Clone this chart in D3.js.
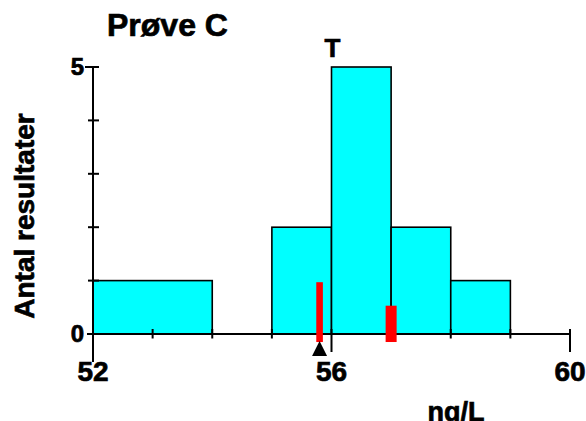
<!DOCTYPE html>
<html><head><meta charset="utf-8">
<script src="https://cdn.jsdelivr.net/npm/d3@7"></script>
<style>body{margin:0;background:#fff}svg{display:block}text{font-family:"Liberation Sans",Arial,sans-serif;font-weight:bold;fill:#000;stroke:#000;stroke-width:0.7px}</style>
</head><body>
<script>
const binStart = [52, 55, 56, 57, 58];
const binEnd   = [54, 56, 57, 58, 59];
const counts   = [1, 2, 5, 2, 1];
const xTickLabels = [52, 56, 60];
const yTickLabels = [0, 5];
const markerValues = [55.8, 57.0];
const markerTops   = [0.97, 0.53];
const targetValue = 56;
const arrowValue = 55.8;

const W = 586, H = 421;
const svg = d3.select("body").append("svg").attr("width", W).attr("height", H);
const x = d3.scaleLinear().domain([52, 60]).range([93, 570]);
const y = d3.scaleLinear().domain([0, 5]).range([334, 67]);

// bars
svg.selectAll("rect.bar").data(counts).enter().append("rect")
  .attr("x", (d,i) => x(binStart[i])).attr("width", (d,i) => x(binEnd[i]) - x(binStart[i]))
  .attr("y", d => y(d)).attr("height", d => y(0) - y(d))
  .attr("fill", "#00ffff").attr("stroke", "#000").attr("stroke-width", 1.6);

// axes lines
const g = svg.append("g").attr("stroke", "#000").attr("stroke-width", 2);
g.append("line").attr("x1", x(52) - 6).attr("x2", x(60)).attr("y1", y(0)).attr("y2", y(0));
g.append("line").attr("x1", x(52)).attr("x2", x(52)).attr("y1", y(5)).attr("y2", y(0) + 28);
// x ticks
d3.range(52, 61).forEach(v => {
  const major = xTickLabels.includes(v);
  g.append("line").attr("x1", x(v)).attr("x2", x(v))
    .attr("y1", y(0) - 5).attr("y2", major ? y(0) + 18 : y(0) + 4.5);
});
// y ticks
d3.range(1, 6).forEach(v => {
  const major = yTickLabels.includes(v);
  g.append("line").attr("y1", y(v)).attr("y2", y(v))
    .attr("x1", x(52) - (major ? 8 : 5)).attr("x2", x(52) + 6);
});

// x tick labels
svg.selectAll("text.xt").data(xTickLabels).enter().append("text")
  .attr("x", d => x(d)).attr("y", 381).attr("text-anchor", "middle")
  .attr("font-size", 28).text(d => d);
// y tick labels
svg.selectAll("text.yt").data(yTickLabels).enter().append("text")
  .attr("x", x(52) - 9).attr("y", d => y(d) + 8).attr("text-anchor", "end")
  .attr("font-size", 24).text(d => d);

// red markers
svg.selectAll("rect.mk").data(markerValues).enter().append("rect")
  .attr("x", (d,i) => x(d) - (i === 0 ? 3.3 : 5.5))
  .attr("width", (d,i) => i === 0 ? 6.6 : 11)
  .attr("y", (d,i) => y(markerTops[i]))
  .attr("height", (d,i) => y(-0.15) - y(markerTops[i]))
  .attr("fill", "#ff0000");

// arrow
const ax = x(arrowValue);
svg.append("path").attr("d", `M${ax},341 L${ax-7.5},356 L${ax+7.5},356 Z`).attr("fill", "#000");

// T label
svg.append("text").attr("x", x(targetValue) + 1).attr("y", 57).attr("text-anchor", "middle")
  .attr("font-size", 26).text("T");

// title
svg.append("text").attr("x", 107).attr("y", 36).attr("font-size", 32).text("Prøve C");

// axis titles
svg.append("text").attr("x", 456).attr("y", 421).attr("text-anchor", "middle")
  .attr("font-size", 27).text("ng/L");
svg.append("text").attr("transform", "translate(34,216) rotate(-90)").attr("text-anchor", "middle")
  .attr("font-size", 28).text("Antal resultater");
</script>
</body></html>
